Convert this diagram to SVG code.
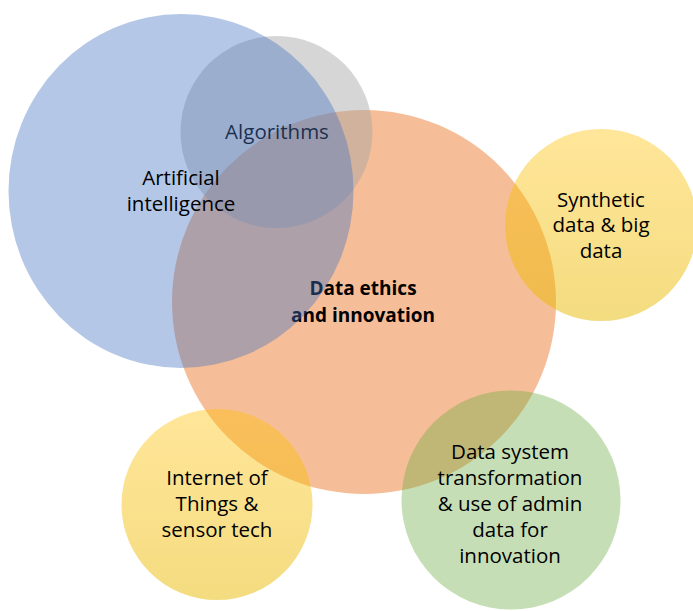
<svg xmlns="http://www.w3.org/2000/svg" width="693" height="611" viewBox="0 0 693 611">
<defs>
<linearGradient id="yel" x1="0" y1="0" x2="0" y2="1">
<stop offset="0" stop-color="#FFC000" stop-opacity="0.4"/>
<stop offset="1" stop-color="#E8B800" stop-opacity="0.5"/>
</linearGradient>
<style>
text{font-family:"Open Sans","Liberation Sans",sans-serif;font-size:20.5px;fill:#000;text-anchor:middle}
.b{font-weight:bold;font-size:19px}
</style>
</defs>
<rect width="693" height="611" fill="#fff"/>
<g id="data-ethics">
<circle cx="364" cy="302" r="192" fill="#ED7D31" fill-opacity="0.5"/>
<text class="b" x="363" y="295">Data ethics</text>
<text class="b" x="363" y="321.5">and innovation</text>
</g>
<g id="algorithms">
<circle cx="276.5" cy="132" r="96" fill="#A5A5A5" fill-opacity="0.45"/>
<text x="277" y="139">Algorithms</text>
</g>
<g id="ai">
<ellipse cx="181" cy="191" rx="172.5" ry="177" fill="#4472C4" fill-opacity="0.4"/>
<text x="181" y="185">Artificial</text>
<text x="181" y="211">intelligence</text>
</g>
<g id="synthetic">
<circle cx="601" cy="225" r="96" fill="url(#yel)"/>
<text x="601" y="206.5">Synthetic</text>
<text x="601" y="232">data &amp; big</text>
<text x="601" y="257.5">data</text>
</g>
<g id="iot">
<circle cx="217" cy="504.5" r="95.5" fill="url(#yel)"/>
<text x="217" y="485">Internet of</text>
<text x="217" y="511">Things &amp;</text>
<text x="217" y="536.5">sensor tech</text>
</g>
<g id="data-system">
<circle cx="511" cy="500" r="109.5" fill="#70AD47" fill-opacity="0.4"/>
<text x="510" y="459">Data system</text>
<text x="510" y="485">transformation</text>
<text x="510" y="510.5">&amp; use of admin</text>
<text x="510" y="536.5">data for</text>
<text x="510" y="562.5">innovation</text>
</g>
<g id="connectors"/>
</svg>
